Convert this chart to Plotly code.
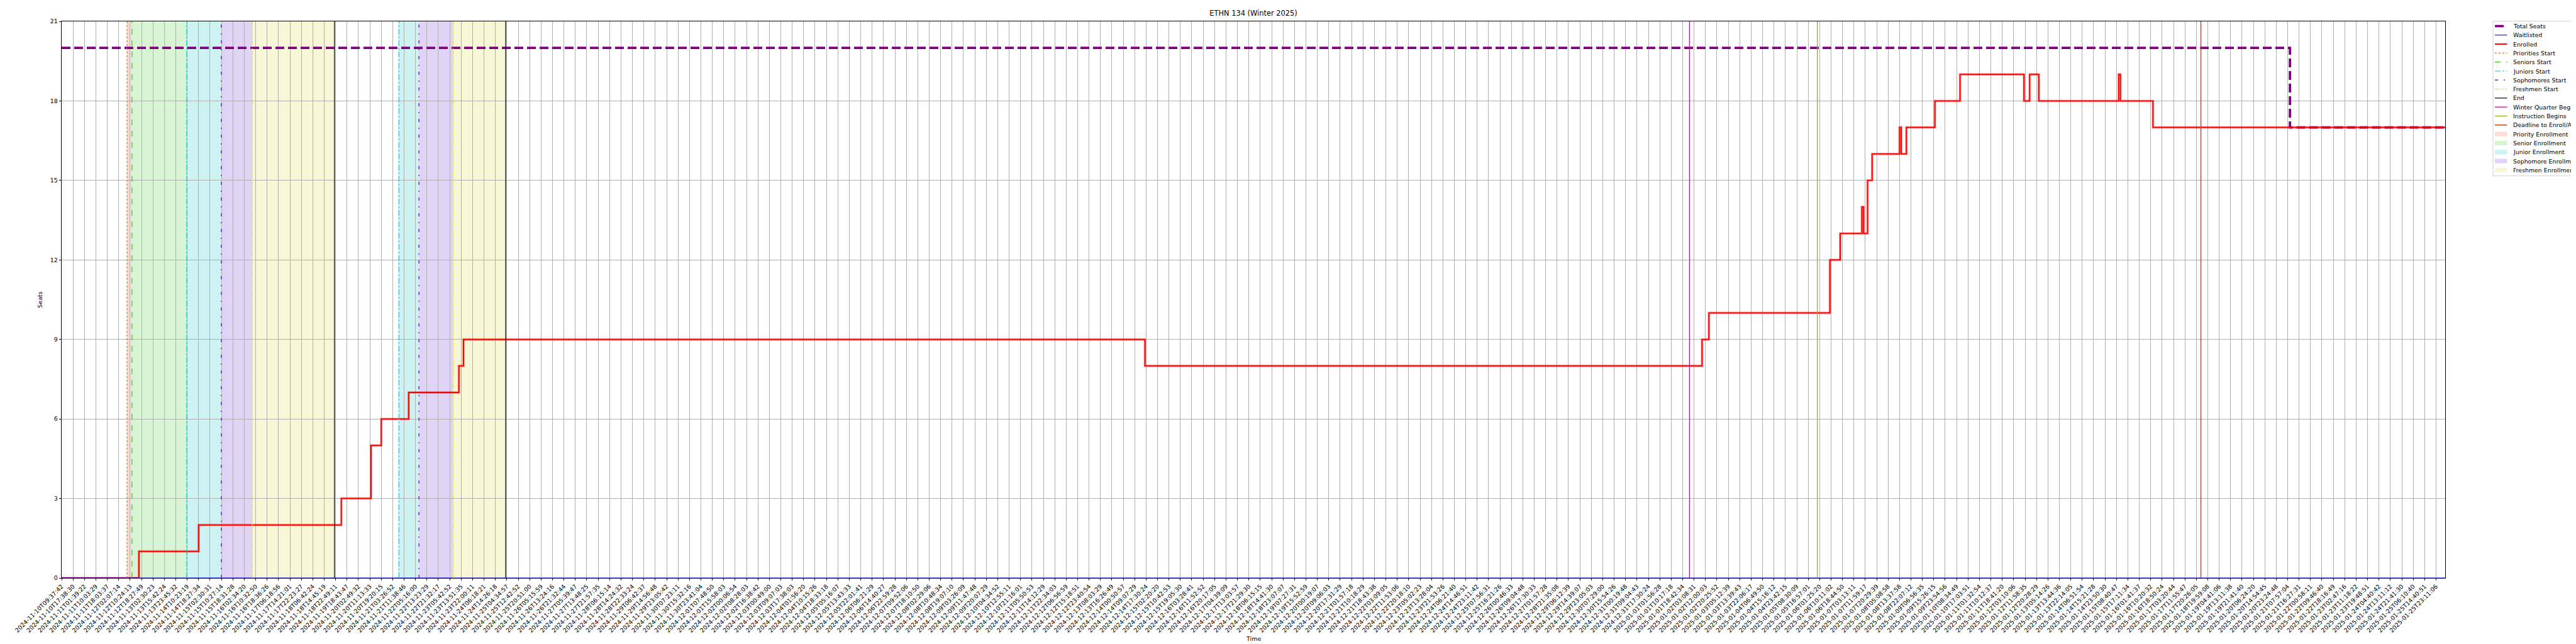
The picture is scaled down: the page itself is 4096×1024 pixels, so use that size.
import plotly.graph_objects as go

# ---------------- data ----------------
TITLE = "ETHN 134 (Winter 2025)"

TICK_LABELS = [
    "2024-11-10T09:37:42", "2024-11-10T17:38:30", "2024-11-11T01:39:22", "2024-11-11T10:03:29",
    "2024-11-11T18:03:37", "2024-11-12T02:07:14", "2024-11-12T10:24:13", "2024-11-12T18:27:49",
    "2024-11-13T02:30:23", "2024-11-13T15:42:24", "2024-11-13T23:45:32", "2024-11-14T10:23:19",
    "2024-11-14T18:27:34", "2024-11-15T02:30:31", "2024-11-15T10:27:14", "2024-11-15T18:31:28",
    "2024-11-16T02:34:20", "2024-11-16T10:32:50", "2024-11-16T18:36:26", "2024-11-17T06:18:56",
    "2024-11-17T14:21:01", "2024-11-17T22:23:27", "2024-11-18T06:42:24", "2024-11-18T14:45:19",
    "2024-11-18T22:49:11", "2024-11-19T18:43:47", "2024-11-20T02:49:32", "2024-11-20T11:13:33",
    "2024-11-20T19:20:15", "2024-11-21T03:26:52", "2024-11-21T11:38:46", "2024-11-22T05:16:00",
    "2024-11-22T13:23:29", "2024-11-22T21:32:17", "2024-11-23T05:42:52", "2024-11-23T13:51:35",
    "2024-11-23T22:00:11", "2024-11-24T06:18:21", "2024-11-24T14:26:18", "2024-11-25T04:34:57",
    "2024-11-25T12:42:52", "2024-11-25T20:51:00", "2024-11-26T05:15:59", "2024-11-26T13:24:16",
    "2024-11-26T21:32:44", "2024-11-27T05:39:47", "2024-11-27T13:48:25", "2024-11-27T21:57:35",
    "2024-11-28T06:15:14", "2024-11-28T14:24:32", "2024-11-28T22:33:24", "2024-11-29T06:42:37",
    "2024-11-29T14:56:48", "2024-11-29T23:05:42", "2024-11-30T07:23:11", "2024-11-30T15:32:16",
    "2024-11-30T23:41:04", "2024-12-01T07:48:50", "2024-12-01T15:58:03", "2024-12-02T00:06:54",
    "2024-12-02T08:28:03", "2024-12-02T16:38:42", "2024-12-03T00:49:00", "2024-12-03T09:07:03",
    "2024-12-03T17:38:03", "2024-12-04T01:56:20", "2024-12-04T10:15:26", "2024-12-04T18:33:18",
    "2024-12-05T05:16:07", "2024-12-05T13:43:33", "2024-12-05T22:01:41", "2024-12-06T06:21:29",
    "2024-12-06T14:40:27", "2024-12-06T22:59:28", "2024-12-07T09:52:06", "2024-12-07T18:10:50",
    "2024-12-08T02:29:06", "2024-12-08T10:48:34", "2024-12-08T19:07:10", "2024-12-09T03:26:09",
    "2024-12-09T11:47:48", "2024-12-09T20:07:29", "2024-12-10T04:34:52", "2024-12-10T12:55:11",
    "2024-12-10T21:16:01", "2024-12-11T05:50:53", "2024-12-11T14:12:29", "2024-12-11T22:34:03",
    "2024-12-12T06:56:59", "2024-12-12T15:18:51", "2024-12-12T23:40:54", "2024-12-13T08:03:29",
    "2024-12-13T16:26:49", "2024-12-14T00:50:57", "2024-12-14T09:07:29", "2024-12-14T17:30:24",
    "2024-12-15T02:20:20", "2024-12-15T10:42:53", "2024-12-15T19:05:30", "2024-12-16T03:28:41",
    "2024-12-16T11:52:52", "2024-12-16T20:17:05", "2024-12-17T04:39:09", "2024-12-17T13:03:57",
    "2024-12-17T21:29:30", "2024-12-18T06:15:15", "2024-12-18T14:41:30", "2024-12-18T23:07:07",
    "2024-12-19T07:27:31", "2024-12-19T15:52:59", "2024-12-20T00:19:07", "2024-12-20T09:06:03",
    "2024-12-20T17:31:29", "2024-12-21T01:57:18", "2024-12-21T10:18:29", "2024-12-21T18:43:38",
    "2024-12-22T03:09:05", "2024-12-22T11:53:06", "2024-12-22T20:18:10", "2024-12-23T05:02:23",
    "2024-12-23T13:28:04", "2024-12-23T21:53:26", "2024-12-24T06:21:40", "2024-12-24T14:46:51",
    "2024-12-24T23:11:42", "2024-12-25T07:56:31", "2024-12-25T16:21:26", "2024-12-26T00:46:33",
    "2024-12-26T09:04:48", "2024-12-26T17:30:33", "2024-12-27T01:57:28", "2024-12-28T21:35:08",
    "2024-12-29T06:12:39", "2024-12-29T14:39:07", "2024-12-29T23:05:03", "2024-12-30T07:29:00",
    "2024-12-30T15:54:26", "2024-12-31T00:19:48", "2024-12-31T09:04:43", "2024-12-31T17:30:24",
    "2025-01-01T01:56:28", "2025-01-01T10:17:18", "2025-01-01T18:42:34", "2025-01-02T03:08:31",
    "2025-01-02T12:00:03", "2025-01-02T20:25:52", "2025-01-03T05:12:39", "2025-01-03T13:39:43",
    "2025-01-03T22:06:17", "2025-01-04T06:49:50", "2025-01-04T15:16:12", "2025-01-04T23:42:15",
    "2025-01-05T08:30:09", "2025-01-05T16:57:01", "2025-01-06T01:25:20", "2025-01-06T10:11:02",
    "2025-01-06T18:44:50", "2025-01-07T03:13:11", "2025-01-07T11:59:17", "2025-01-07T20:29:39",
    "2025-01-08T05:08:58", "2025-01-08T13:37:58", "2025-01-08T22:07:12", "2025-01-09T06:56:35",
    "2025-01-09T15:26:15", "2025-01-09T23:54:56", "2025-01-10T08:34:49", "2025-01-10T17:03:51",
    "2025-01-11T01:32:54", "2025-01-11T10:12:37", "2025-01-11T18:41:20", "2025-01-12T03:10:06",
    "2025-01-12T11:58:35", "2025-01-12T20:28:29", "2025-01-13T05:14:26", "2025-01-13T13:44:36",
    "2025-01-13T22:14:05", "2025-01-14T06:51:54", "2025-01-14T15:21:28", "2025-01-14T23:50:30",
    "2025-01-15T08:40:47", "2025-01-15T17:11:34", "2025-01-16T01:41:37", "2025-01-16T10:20:32",
    "2025-01-16T18:50:24", "2025-01-17T03:20:44", "2025-01-17T11:55:47", "2025-01-17T20:26:05",
    "2025-01-18T19:59:08", "2025-01-19T04:41:06", "2025-01-19T13:11:38", "2025-01-19T21:41:40",
    "2025-01-20T06:24:20", "2025-01-20T14:54:45", "2025-01-20T23:24:48", "2025-01-21T07:57:04",
    "2025-01-21T16:27:31", "2025-01-22T00:58:11", "2025-01-22T09:46:40", "2025-01-22T18:16:49",
    "2025-01-23T02:47:16", "2025-01-23T11:18:22", "2025-01-23T19:48:51", "2025-01-24T04:40:42",
    "2025-01-24T13:11:12", "2025-01-24T21:41:30", "2025-01-25T06:10:40", "2025-01-25T14:40:51",
    "2025-01-25T23:11:06",
]

# x positions expressed in tick-index units (one unit = spacing between labelled samples)
X_END = 208.8

# Enrolled: step-change points (x, new value)
ENROLLED_X = [0, 6.77, 12.0, 24.5, 27.1, 28.0, 30.4, 34.8, 35.2, 94.9, 143.7, 144.3,
              154.9, 155.8, 157.7, 157.85, 158.2, 158.6, 161.0, 161.15, 161.6, 164.1,
              166.3, 171.9, 172.4, 173.2, 180.2, 180.35, 183.2, X_END]
ENROLLED_Y = [0, 1, 2, 3, 5, 6, 7, 8, 9, 8, 9, 10,
              12, 13, 14, 13, 15, 16, 17, 16, 17, 18,
              19, 18, 19, 18, 19, 18, 17, 17]

TOTAL_X = [0, 195.2, X_END]
TOTAL_Y = [20, 17, 17]

WAIT_X = [0, X_END]
WAIT_Y = [0, 0]

# enrollment window events (x in tick units)
PRIORITY_START = [5.73]
SENIOR_START = [6.16]
JUNIOR_START = [10.96, 29.54]
SOPHOMORE_START = [13.99, 31.3]
FRESHMEN_START = [16.7, 34.3]
END = [23.9, 38.9]
WINTER_BEGINS = 142.6
INSTRUCTION_BEGINS = 153.8
DEADLINE_ADD = 187.4

Y_MAX = 21
Y_DTICK = 3

# ---------------- styles ----------------
FONT = "DejaVu Sans"
W, H = 4096, 1024
L, R, T, B = 90, 216, 26, 113
PW, PH = W - L - R, H - T - B

C_TOTAL, C_WAIT, C_ENR = "#800080", "#0000ff", "#ff0000"
TOTAL_DASH = "14px,6px"

SPAN_STYLES = [
    ("Priority Enrollment", "rgba(240,150,120,0.32)"),
    ("Senior Enrollment", "rgba(130,220,110,0.30)"),
    ("Junior Enrollment", "rgba(120,215,220,0.36)"),
    ("Sophomore Enrollment", "rgba(175,140,230,0.38)"),
    ("Freshmen Enrollment", "rgba(235,235,150,0.38)"),
]
LINE_STYLES = [
    ("Priorities Start", "#f0682a", "dot", 1.2),
    ("Seniors Start", "#33cc11", "dash", 1.2),
    ("Juniors Start", "#11c4cc", "dashdot", 1.2),
    ("Sophomores Start", "#5e1fdc", "5px,9px,2px,9px", 1.4),
    ("Freshmen Start", "#e2e22a", "6px,2px,2px,2px,2px,2px", 1.2),
    ("End", "#000000", "solid", 1.2),
    ("Winter Quarter Begins", "#cc1488", "solid", 1.3),
    ("Instruction Begins", "#8db010", "solid", 1.3),
    ("Deadline to Enroll/Add", "#d0401a", "solid", 1.5),
]

fig = go.Figure()

# shaded enrollment periods
span_ranges = [
    [(PRIORITY_START[0], SENIOR_START[0])],
    [(SENIOR_START[0], JUNIOR_START[0])],
    list(zip(JUNIOR_START, SOPHOMORE_START)),
    list(zip(SOPHOMORE_START, FRESHMEN_START)),
    list(zip(FRESHMEN_START, END)),
]
for (name, color), ranges in zip(SPAN_STYLES, span_ranges):
    for a, b in ranges:
        fig.add_shape(type="rect", xref="x", yref="y domain", x0=a, x1=b, y0=0, y1=1,
                      fillcolor=color, line=dict(width=0), layer="below")

# main series
fig.add_trace(go.Scatter(x=TOTAL_X, y=TOTAL_Y, mode="lines", line_shape="hv",
                         name="Total Seats", showlegend=False,
                         line=dict(color=C_TOTAL, width=3.8, dash=TOTAL_DASH)))
fig.add_trace(go.Scatter(x=ENROLLED_X, y=ENROLLED_Y, mode="lines", line_shape="hv",
                         showlegend=False, hoverinfo="skip",
                         line=dict(color="rgba(255,0,0,0.3)", width=4)))
fig.add_trace(go.Scatter(x=ENROLLED_X, y=ENROLLED_Y, mode="lines", line_shape="hv",
                         name="Enrolled", showlegend=False,
                         line=dict(color=C_ENR, width=2)))
fig.add_trace(go.Scatter(x=WAIT_X, y=WAIT_Y, mode="lines", line_shape="hv",
                         name="Waitlisted", showlegend=False,
                         line=dict(color=C_WAIT, width=1.1)))

# vertical markers
line_positions = [PRIORITY_START, SENIOR_START, JUNIOR_START, SOPHOMORE_START,
                  FRESHMEN_START, END, [WINTER_BEGINS], [INSTRUCTION_BEGINS], [DEADLINE_ADD]]
for (name, color, dash, w), xs in zip(LINE_STYLES, line_positions):
    for xv in xs:
        fig.add_shape(type="line", xref="x", yref="y domain", x0=xv, x1=xv, y0=0, y1=1,
                      line=dict(color=color, width=w, dash=dash), layer="above")

# ---------------- legend (drawn, matplotlib-style) ----------------
def px2x(p):
    return (p - L) / PW


def px2y(p):
    return (H - B - p) / PH


LEG_L, LEG_T, LEG_B = 3956, 25.7, 271.7
ROW0, ROW_STEP = 33.5, 14.3
SYM_L, SYM_R, TXT_L = 3959, 3978.5, 3985.5

fig.add_shape(type="rect", xref="paper", yref="paper", x0=px2x(LEG_L), x1=px2x(W + 10),
              y0=px2y(LEG_B), y1=px2y(LEG_T), line=dict(color="#d0d0d0", width=1),
              fillcolor="rgba(255,255,255,0.8)", layer="above")

entries = [("Total Seats", "line", C_TOTAL, TOTAL_DASH, 3.7),
           ("Waitlisted", "line", C_WAIT, "solid", 1.1),
           ("Enrolled", "line", C_ENR, "solid", 2.0)]
entries += [(n, "line", c, d, w) for n, c, d, w in LINE_STYLES]
entries += [(n, "rect", c, None, None) for n, c in SPAN_STYLES]

for i, (name, kind, color, dash, w) in enumerate(entries):
    cy = ROW0 + i * ROW_STEP
    if kind == "line":
        fig.add_shape(type="line", xref="paper", yref="paper",
                      x0=px2x(SYM_L), x1=px2x(SYM_R), y0=px2y(cy), y1=px2y(cy),
                      line=dict(color=color, width=w, dash=dash), layer="above")
    else:
        fig.add_shape(type="rect", xref="paper", yref="paper",
                      x0=px2x(SYM_L), x1=px2x(SYM_R), y0=px2y(cy + 3.6), y1=px2y(cy - 3.6),
                      fillcolor=color, line=dict(width=0), layer="above")
    fig.add_annotation(text=name, xref="paper", yref="paper", x=px2x(TXT_L), y=px2y(cy),
                       xanchor="left", yanchor="middle", showarrow=False,
                       font=dict(size=9.4, family=FONT, color="black"))

# axis title "Time"
fig.add_annotation(text="Time", xref="paper", yref="paper", x=0.5, y=px2y(1008),
                   xanchor="center", yanchor="middle", showarrow=False,
                   font=dict(size=9.5, family=FONT, color="black"))

fig.update_layout(
    width=W, height=H,
    margin=dict(l=L, r=R, t=T, b=B, autoexpand=False),
    paper_bgcolor="white", plot_bgcolor="white",
    font=dict(family=FONT, size=9.5, color="black"),
    title=dict(text=TITLE, x=0.5, xref="paper", y=1 - 13 / H, yref="container",
               xanchor="center", yanchor="middle", font=dict(size=11.4, family=FONT)),
    showlegend=False,
)
fig.update_xaxes(
    range=[0, X_END], tickmode="array", tickvals=list(range(len(TICK_LABELS))),
    ticktext=TICK_LABELS, tickangle=-45, tickfont=dict(size=9.5),
    showgrid=True, gridcolor="#b0b0b0", gridwidth=0.7,
    showline=True, linecolor="black", linewidth=1, mirror=True,
    ticks="outside", ticklen=3.3, tickcolor="black", zeroline=False,
    automargin=False,
)
fig.update_yaxes(
    range=[0, Y_MAX], tickmode="linear", tick0=0, dtick=Y_DTICK, tickfont=dict(size=9.5),
    showgrid=True, gridcolor="#b0b0b0", gridwidth=0.7,
    showline=True, linecolor="black", linewidth=1, mirror=True,
    ticks="outside", ticklen=3.3, tickcolor="black", zeroline=False,
    title=dict(text="Seats", font=dict(size=9.5), standoff=10),
    automargin=False,
)

fig.write_html("out.html")
